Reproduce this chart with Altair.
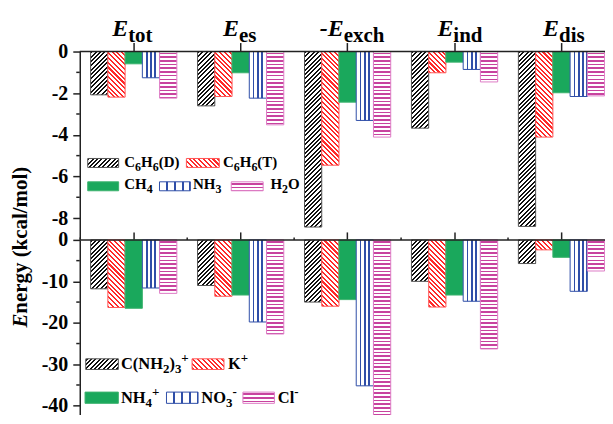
import math
import altair as alt
import pandas as pd

# ---------------- data ----------------
groups = ["tot", "es", "exch", "ind", "dis"]
title_main = ["E", "E", "-E", "E", "E"]
title_sub = ["tot", "es", "exch", "ind", "dis"]

neutral_series = ["C6H6(D)", "C6H6(T)", "CH4", "NH3", "H2O"]
c6h6_d = [-2.08, -2.61, -8.43, -3.68, -8.40]
c6h6_t = [-2.19, -2.16, -5.46, -1.02, -4.11]
ch4 = [-0.59, -1.02, -2.43, -0.51, -1.98]
nh3 = [-1.26, -2.24, -3.31, -0.86, -2.16]
h2o = [-2.24, -3.52, -4.11, -1.46, -2.13]

ion_series = ["C(NH2)3+", "K+", "NH4+", "NO3-", "Cl-"]
guan = [-11.8, -11.0, -15.0, -10.0, -5.7]
k_ion = [-16.3, -13.6, -16.0, -16.2, -2.4]
nh4 = [-16.5, -13.3, -14.4, -13.3, -4.2]
no3 = [-11.6, -19.8, -35.2, -14.8, -12.4]
cl = [-12.9, -22.7, -43.8, -26.3, -7.5]

# label pieces: 0 normal, 1 subscript, 2 superscript
neutral_parts = [
    [("C", 0), ("6", 1), ("H", 0), ("6", 1), ("(D)", 0)],
    [("C", 0), ("6", 1), ("H", 0), ("6", 1), ("(T)", 0)],
    [("CH", 0), ("4", 1)],
    [("NH", 0), ("3", 1)],
    [("H", 0), ("2", 1), ("O", 0)],
]
ion_parts = [
    [("C(NH", 0), ("2", 1), (")", 0), ("3", 1), ("+", 2)],
    [("K", 0), ("+", 2)],
    [("NH", 0), ("4", 1), ("+", 2)],
    [("NO", 0), ("3", 1), ("-", 2)],
    [("Cl", 0), ("-", 2)],
]

top_ticks = [0, -2, -4, -6, -8]
top_minor = [-1, -3, -5, -7]
bot_ticks = [0, -10, -20, -30, -40]
bot_minor = [-5, -15, -25, -35]

# ---------------- layout / style ----------------
FONT = "Liberation Serif"
PW = 535
TOP_H, BOT_H = 188, 183
TOP_DOM, BOT_DOM = [-9, 0], [-44, 0]
STEP = 107.3
BAR_W = 17.3
title_dx = [-5.6, -1.6, -3.9, -1.2, -2.5]
LINE = "#222222"

STYLE = [
    dict(kind="fwd", color="#111111", stroke="#555555", period=4.4, lw=2.0),
    dict(kind="back", color="#ff2a2a", stroke="#ff5555", period=4.8, lw=2.1),
    dict(kind="solid", color="#1aa85c", stroke="#3cb36e"),
    dict(kind="vert", color="#2f4ea8", stroke="#2f4ea8", lw=1.8),
    dict(kind="horiz", color="#c8439f", stroke="#de7cc6", period=3.7, lw=1.6),
]


def stripe_stops(length, period, lw, color, phase=0.0, bg="white"):
    stops = [{"offset": 0, "color": bg}]
    pos = phase
    while pos < length:
        a = max(pos / length, 0)
        b = min((pos + lw) / length, 1)
        stops += [{"offset": round(a, 5), "color": bg},
                  {"offset": round(a, 5), "color": color},
                  {"offset": round(b, 5), "color": color},
                  {"offset": round(b, 5), "color": bg}]
        pos += period
    stops.append({"offset": 1, "color": bg})
    return stops


def pattern_fill(si, w, h):
    st = STYLE[si]
    k = st["kind"]
    if k == "solid":
        return st["color"]
    if k == "vert":
        return {"gradient": "linear", "x1": 0, "y1": 0, "x2": 1, "y2": 0,
                "stops": stripe_stops(w, w / 4, st["lw"], st["color"], phase=w / 4 - st["lw"] / 2)}
    if k == "horiz":
        return {"gradient": "linear", "x1": 0, "y1": 0, "x2": 0, "y2": 1,
                "stops": stripe_stops(h, st["period"], st["lw"], st["color"], phase=1.2)}
    f = (w + h) / (w * w + h * h)
    stops = stripe_stops(w + h, st["period"], st["lw"], st["color"], phase=0.5)
    if k == "fwd":
        return {"gradient": "linear", "x1": 0, "y1": 0, "x2": w * f, "y2": h * f, "stops": stops}
    return {"gradient": "linear", "x1": 0, "y1": 1, "x2": w * f, "y2": 1 - h * f, "stops": stops}


XS = alt.Scale(domain=groups, range=[0.5, 0.5 + 5 * STEP], paddingInner=0, paddingOuter=0)


def x_enc(tick_size, band_pos=None):
    ax = alt.Axis(orient="top", labels=False, domain=False, ticks=True, tickSize=tick_size,
                  tickWidth=1.5, tickColor=LINE, grid=False, title=None)
    if band_pos is None:
        return alt.X("group:N", sort=groups, scale=XS, axis=ax)
    return alt.X("group:N", sort=groups, scale=XS, axis=ax, bandPosition=band_pos)


def y_enc(domain, ticks):
    return alt.Y("value:Q", scale=alt.Scale(domain=domain, nice=False, zero=False),
                 axis=alt.Axis(values=ticks, labelExpr="datum.value", labelFont=FONT,
                               labelFontSize=20, labelFontWeight="bold", labelColor="black",
                               labelPadding=5, tickSize=7, tickWidth=1.5, tickColor=LINE,
                               domainColor=LINE, domainWidth=1.5, grid=False, title=None))


one = pd.DataFrame({"a": [0]})

WID = {"C": .722, "H": .778, "D": .722, "T": .667, "N": .722, "O": .778, "K": .778,
       "l": .278, "(": .333, ")": .333, "+": .570, "-": .333}


def text_layer(txt, x, y, size, italic=False, align="left", angle=0):
    return alt.Chart(one).mark_text(
        text=txt, font=FONT, fontSize=size, fontWeight="bold",
        fontStyle="italic" if italic else "normal", align=align,
        baseline="alphabetic", angle=angle, color="black"
    ).encode(x=alt.value(x), y=alt.value(y))


def label_layers(parts, x, base, fs_main, fs_small, sub_dy, sup_dy):
    out = []
    cx = x
    for t, kind in parts:
        fs = fs_main if kind == 0 else fs_small
        y = base + (0 if kind == 0 else (sub_dy if kind == 1 else sup_dy))
        out.append(text_layer(t, cx, y, fs))
        cx += sum(WID.get(ch, 0.5) for ch in t) * fs
    return out


def swatch_layer(si, x0, x1, y0, y1):
    return alt.Chart(one).mark_rect(
        fill=pattern_fill(si, x1 - x0, y1 - y0), stroke=STYLE[si]["stroke"], strokeWidth=1
    ).encode(x=alt.value(x0), x2=alt.value(x1), y=alt.value(y0), y2=alt.value(y1))


def panel(series, arrays, domain, ticks, minor, height, tick_size, legend_spec, parts,
          fs_main, fs_small, sub_dy, sup_dy, extra):
    rows = []
    k = 0
    for si, (s, arr) in enumerate(zip(series, arrays)):
        for g, v in zip(groups, arr):
            rows.append({"group": g, "series": s, "value": v, "k": k, "si": si})
            k += 1
    df = pd.DataFrame(rows)
    ppu = height / (domain[1] - domain[0])
    X = x_enc(tick_size)
    Y = y_enc(domain, ticks)
    layers = []
    for r in rows:
        si = r["si"]
        layers.append(
            alt.Chart(df).transform_filter(f"datum.k == {r['k']}").mark_bar(
                fill=pattern_fill(si, BAR_W, abs(r["value"]) * ppu),
                stroke=STYLE[si]["stroke"], strokeWidth=1,
                width=BAR_W, xOffset=(si - 2) * BAR_W
            ).encode(x=X, y=Y)
        )
    # zero line
    layers.append(alt.Chart(one).mark_rule(color=LINE, strokeWidth=1.5).encode(
        x=alt.value(0), x2=alt.value(PW), y=alt.value(0)))
    # minor y ticks
    layers.append(alt.Chart(pd.DataFrame({"value": minor})).mark_rule(
        color=LINE, strokeWidth=1.5).encode(y=Y, x=alt.value(-3.5), x2=alt.value(0)))
    # legend
    for si, (x0, x1, y0, y1, tx, base) in enumerate(legend_spec):
        layers.append(swatch_layer(si, x0, x1, y0, y1))
        layers += label_layers(parts[si], tx, base, fs_main, fs_small, sub_dy, sup_dy)
    layers += extra(X)
    return alt.layer(*layers).properties(width=PW, height=height)


def top_extra(X):
    out = []
    gdf = pd.DataFrame({"group": groups})
    for i, g in enumerate(groups):
        out.append(alt.Chart(gdf).transform_filter(f"datum.group == '{g}'").mark_text(
            text=title_main[i], font=FONT, fontSize=24, fontWeight="bold", fontStyle="italic",
            align="right", baseline="alphabetic", dx=title_dx[i], color="black"
        ).encode(x=X, y=alt.value(-16)))
        out.append(alt.Chart(gdf).transform_filter(f"datum.group == '{g}'").mark_text(
            text=title_sub[i], font=FONT, fontSize=21, fontWeight="bold",
            align="left", baseline="alphabetic", dx=title_dx[i], color="black"
        ).encode(x=X, y=alt.value(-9.3)))
    out.append(text_layer("E", -53, 263, 21, italic=True, align="right", angle=270))
    out.append(text_layer("nergy (kcal/mol)", -53, 263, 21, align="left", angle=270))
    return out


def bot_extra(X):
    gdf = pd.DataFrame({"group": groups})
    return [alt.Chart(gdf).mark_rule(color=LINE, strokeWidth=1.5).encode(
        x=x_enc(8, band_pos=0), y=alt.value(0), y2=alt.value(-2.5))]


top_legend = [
    (8, 39, 107.3, 116.3, 44.7, 115.7),
    (107, 140, 107.3, 116.3, 143.7, 115.7),
    (8, 39, 130.7, 139.7, 44.7, 138.3),
    (80, 111, 130.7, 139.7, 113.7, 138.3),
    (152, 184, 130.7, 139.7, 191.3, 138.3),
]
bot_legend = [
    (6, 38.7, 119.3, 130, 41.3, 130),
    (112.7, 144.7, 119.3, 130, 148.7, 130),
    (5.3, 38.7, 152.7, 164, 41.3, 164),
    (87, 118.7, 152.7, 164, 122, 164),
    (163.7, 195.3, 152.7, 164, 198.7, 164),
]

top = panel(neutral_series, [c6h6_d, c6h6_t, ch4, nh3, h2o], TOP_DOM, top_ticks, top_minor,
            TOP_H, 9, top_legend, neutral_parts, 15, 12, 4, -6, top_extra)
bottom = panel(ion_series, [guan, k_ion, nh4, no3, cl], BOT_DOM, bot_ticks, bot_minor,
               BOT_H, 8, bot_legend, ion_parts, 16.5, 13, 4, -7, bot_extra)


def build(pad):
    return alt.vconcat(top, bottom, spacing=1, bounds="flush").properties(
        padding=pad, background="white",
    ).configure_view(stroke="transparent")


try:
    chart = build({"left": 1, "top": 7, "right": -10, "bottom": -9})
    chart.to_dict()
except Exception:
    chart = build({"left": 1, "top": 7, "right": 0, "bottom": 0})

chart.save("out.html", embed_options={"renderer": "svg", "actions": False})
